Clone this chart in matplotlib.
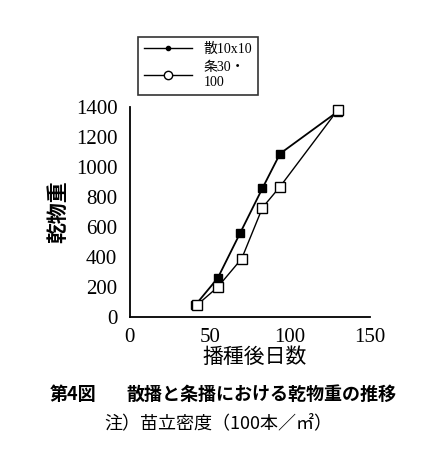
import matplotlib
matplotlib.use('Agg')
import matplotlib.pyplot as plt
from matplotlib.lines import Line2D

plt.rcParams['font.family'] = ['Liberation Serif', 'Noto Sans CJK JP']

# days after sowing / dry matter
days_broad = [41, 55, 69, 83, 94, 130]
dry_broad = [80, 260, 560, 860, 1090, 1370]
days_row = [42, 55, 70, 83, 94, 130]
dry_row = [80, 200, 390, 730, 870, 1380]

label_broad = '散10x10'
label_row = '条30・\n100'
xticks = [0, 50, 100, 150]
yticks = [0, 200, 400, 600, 800, 1000, 1200, 1400]

fig = plt.figure(figsize=(4.4, 4.74), dpi=100)
ax = fig.add_axes([0.295, 0.331, 0.545, 0.443])

ax.plot(days_row, dry_row, '-', color='k', lw=1.0, marker='s', ms=7.5,
        mfc='white', mec='k', mew=1.0, zorder=3, clip_on=False)
ax.plot(days_broad, dry_broad, '-', color='k', lw=1.3, marker='s', ms=6,
        mfc='k', mec='k', zorder=2, clip_on=False)

ax.set_xlim(0, 150)
ax.set_ylim(0, 1400)
ax.set_xticks(xticks)
ax.set_yticks(yticks)
ax.tick_params(length=0, labelsize=15)
ax.tick_params(axis='y', pad=9)
ax.tick_params(axis='x', pad=8)
for s in ['top', 'right']:
    ax.spines[s].set_visible(False)
for s in ['left', 'bottom']:
    ax.spines[s].set_linewidth(1.3)

ax.set_xlabel('播種後日数', fontsize=15, family=['Noto Sans CJK JP'])
ax.xaxis.set_label_coords(0.52, -0.135)
ax.set_ylabel('乾物重', fontsize=15, family=['Noto Sans CJK JP'],
              fontweight='bold')
ax.yaxis.set_label_coords(-0.258, 0.5)

handles = [Line2D([], [], color='k', lw=1, marker='o', ms=3, mfc='k'),
           Line2D([], [], color='k', lw=1, marker='o', ms=6, mfc='white')]
leg = fig.legend(handles, [label_broad, label_row], loc='upper left',
                 bbox_to_anchor=(0.314, 0.922), fontsize=10, frameon=True,
                 fancybox=False, edgecolor='k', handlelength=3.5,
                 borderpad=0.4, labelspacing=0.4, borderaxespad=0)
leg.get_frame().set_linewidth(1.2)

fig.text(0.113, 0.167, '第4図', fontsize=13, fontweight='bold',
         family=['Noto Sans CJK JP'], va='center')
fig.text(0.288, 0.167, '散播と条播における乾物重の推移', fontsize=13,
         fontweight='bold', family=['Noto Sans CJK JP'], va='center')
fig.text(0.238, 0.107, '注）苗立密度（100本／㎡）', fontsize=13,
         family=['Noto Sans CJK JP'], va='center')

fig.savefig('out.png', dpi=100)
